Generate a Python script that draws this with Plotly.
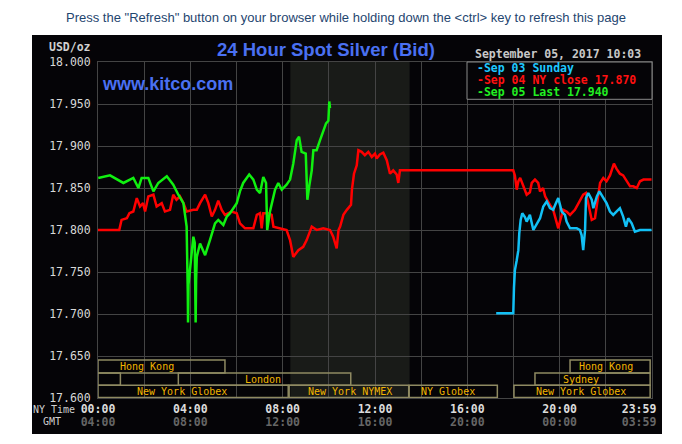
import plotly.graph_objects as go

# ---------------- data ----------------
# Sep 05 (today, green) - hours NY time, price
green_t = [0.01, 0.52, 1.10, 1.53, 1.75, 1.89, 2.18, 2.40, 2.61, 2.98, 3.26, 3.48, 3.70, 3.84,
           3.89, 3.90, 3.92, 3.99, 4.13, 4.19, 4.23, 4.25, 4.28, 4.42, 4.64, 4.85, 5.07, 5.21,
           5.43, 5.58, 5.72, 6.01, 6.15, 6.29, 6.55, 6.73, 6.88, 7.02, 7.16, 7.28, 7.33, 7.45,
           7.67, 7.81, 7.96, 8.17, 8.32, 8.46, 8.61, 8.71, 8.82, 9.00, 9.07, 9.15, 9.26, 9.33,
           9.47, 9.62, 9.76, 9.88, 9.98, 10.02, 10.05]
green_v = [17.862, 17.865, 17.856, 17.862, 17.850, 17.862, 17.862, 17.846, 17.856, 17.864, 17.854,
           17.842, 17.832, 17.804, 17.725, 17.690, 17.735, 17.756, 17.792, 17.785, 17.690, 17.740,
           17.768, 17.784, 17.770, 17.788, 17.808, 17.812, 17.806, 17.816, 17.820, 17.832, 17.846,
           17.856, 17.866, 17.860, 17.848, 17.844, 17.863, 17.856, 17.800, 17.822, 17.848, 17.856,
           17.848, 17.854, 17.860, 17.879, 17.907, 17.911, 17.893, 17.891, 17.836, 17.852, 17.871,
           17.895, 17.895, 17.907, 17.919, 17.927, 17.930, 17.953, 17.945]

# Sep 04 (NY close, red)
red_t = [0.00, 0.92, 1.02, 1.25, 1.36, 1.53, 1.68, 1.82, 1.95, 2.04, 2.18, 2.40, 2.54, 2.76, 2.90,
         3.12, 3.26, 3.40, 3.55, 3.70, 3.84, 4.13, 4.28, 4.42, 4.64, 4.78, 4.93, 5.07, 5.21, 5.36,
         5.50, 5.65, 5.79, 6.01, 6.15, 6.37, 6.73, 6.88, 7.02, 7.09, 7.16, 7.38, 7.52, 7.60, 7.88,
         8.17, 8.32, 8.46, 8.68, 8.89, 9.04, 9.19, 9.26, 9.48, 9.76, 10.05, 10.19, 10.34, 10.42,
         10.49, 10.63, 10.78, 10.96, 11.00, 11.09, 11.21, 11.28, 11.42, 11.56, 11.71, 11.86, 12.00,
         12.07, 12.21, 12.36, 12.51, 12.65, 12.79, 12.94, 13.01, 13.08, 13.21, 17.99, 18.06, 18.14,
         18.21, 18.29, 18.43, 18.57, 18.71, 18.79, 18.93, 19.07, 19.15, 19.28, 19.37, 19.51, 19.58,
         19.72, 19.84, 19.94, 20.01, 20.15, 20.30, 20.45, 20.66, 20.88, 21.02, 21.14, 21.24, 21.39,
         21.53, 21.61, 21.75, 21.89, 22.03, 22.18, 22.35, 22.46, 22.61, 22.75, 22.90, 23.05, 23.19,
         23.34, 23.48, 23.63, 23.92, 23.98]
red_v = [17.800, 17.800, 17.812, 17.814, 17.820, 17.822, 17.838, 17.828, 17.832, 17.822, 17.840,
         17.842, 17.828, 17.832, 17.822, 17.824, 17.842, 17.836, 17.840, 17.832, 17.822, 17.824,
         17.824, 17.832, 17.842, 17.832, 17.816, 17.824, 17.835, 17.824, 17.818, 17.820, 17.822,
         17.820, 17.808, 17.802, 17.802, 17.818, 17.820, 17.802, 17.820, 17.820, 17.818, 17.804,
         17.802, 17.800, 17.788, 17.768, 17.776, 17.780, 17.788, 17.800, 17.804, 17.800, 17.802,
         17.800, 17.792, 17.778, 17.800, 17.804, 17.818, 17.824, 17.830, 17.848, 17.867, 17.877,
         17.895, 17.893, 17.889, 17.893, 17.887, 17.891, 17.885, 17.890, 17.892, 17.883, 17.867,
         17.871, 17.866, 17.856, 17.871, 17.871, 17.871, 17.865, 17.848, 17.858, 17.862, 17.852,
         17.842, 17.845, 17.856, 17.860, 17.856, 17.846, 17.850, 17.840, 17.832, 17.830, 17.824,
         17.812, 17.802, 17.810, 17.824, 17.822, 17.818, 17.824, 17.836, 17.842, 17.844, 17.832,
         17.812, 17.814, 17.828, 17.856, 17.862, 17.858, 17.865, 17.879, 17.873, 17.867, 17.865,
         17.858, 17.852, 17.852, 17.850, 17.858, 17.860, 17.860, 17.860]

# Sep 03 Sunday (cyan)
cyan_t = [17.25, 17.99, 18.02, 18.06, 18.14, 18.21, 18.25, 18.31, 18.38, 18.50, 18.57, 18.71, 18.86,
          19.00, 19.15, 19.29, 19.44, 19.58, 19.72, 19.84, 19.94, 20.09, 20.23, 20.30, 20.45, 20.74,
          20.88, 20.95, 21.02, 21.10, 21.14, 21.24, 21.39, 21.46, 21.61, 21.72, 21.89, 22.03, 22.18,
          22.32, 22.46, 22.61, 22.75, 22.87, 22.97, 23.12, 23.26, 23.48, 23.98]
cyan_v = [17.701, 17.701, 17.731, 17.752, 17.764, 17.776, 17.796, 17.812, 17.820, 17.815, 17.810,
          17.818, 17.800, 17.806, 17.814, 17.828, 17.834, 17.826, 17.824, 17.832, 17.838, 17.822,
          17.818, 17.810, 17.802, 17.802, 17.800, 17.794, 17.776, 17.800, 17.838, 17.844, 17.836,
          17.826, 17.840, 17.846, 17.838, 17.832, 17.822, 17.818, 17.822, 17.826, 17.816, 17.804,
          17.814, 17.808, 17.798, 17.800, 17.800]

# axis ticks
grid_hours = [0, 2, 4, 6, 8, 10, 12, 14, 16, 18, 20, 22, 24]
label_hours = [0, 4, 8, 12, 16, 20, 23.44]
ny_labels = ["00:00", "04:00", "08:00", "12:00", "16:00", "20:00", "23:59"]
gmt_labels = ["04:00", "08:00", "12:00", "16:00", "20:00", "00:00", "03:59"]
y_ticks = [17.60, 17.65, 17.70, 17.75, 17.80, 17.85, 17.90, 17.95, 18.00]

# trading sessions: (label, start hour, end hour, row, label hour)
sessions = [
    ("Hong Kong", 0.0, 5.5, 1, 2.12),
    ("Hong Kong", 20.45, 23.92, 1, 22.0),
    ("", 0.0, 0.97, 2, None),
    ("London", 3.48, 10.95, 2, 7.15),
    ("Sydney", 18.93, 23.92, 2, 20.92),
    ("New York Globex", 0.0, 8.24, 3, 3.66),
    ("New York NYMEX", 8.28, 13.46, 3, 10.92),
    ("NY Globex", 13.48, 17.30, 3, 15.16),
    ("New York Globex", 18.02, 23.92, 3, 20.92),
]
nymex_open, nymex_close = 8.333, 13.5

legend_entries = [("-Sep 03 Sunday", "#1ec8ff"),
                  ("-Sep 04 NY close 17.870", "#ff1010"),
                  ("-Sep 05 Last 17.940", "#22ee22")]
# ---------------------------------------

W, H = 682, 444
L, T = 98, 62
PW, PH = 554, 336
R, B = W - L - PW, H - T - PH


def px(xp):  # page pixel x -> paper
    return (xp - L) / PW


def py(yp):  # page pixel y -> paper
    return (T + PH - yp) / PH


MONO = "DejaVu Sans Mono"
SANS = "Liberation Sans, Arial"
GRID = "#444444"

fig = go.Figure()

fig.add_trace(go.Scatter(x=red_t, y=red_v, mode="lines", line=dict(color="#ff0000", width=2.5),
                         name="Sep 04", hoverinfo="skip"))
fig.add_trace(go.Scatter(x=cyan_t, y=cyan_v, mode="lines", line=dict(color="#12c0f5", width=2.5),
                         name="Sep 03", hoverinfo="skip"))
fig.add_trace(go.Scatter(x=green_t, y=green_v, mode="lines", line=dict(color="#10f010", width=2.5),
                         name="Sep 05", hoverinfo="skip"))
# invisible traces to activate the label axes
for ax in ("x2", "x3"):
    fig.add_trace(go.Scatter(x=[0, 24], y=[17.6, 17.6], xaxis=ax, mode="lines",
                             line=dict(width=0, color="rgba(0,0,0,0)"), hoverinfo="skip",
                             showlegend=False))

shapes = []
# black panel
shapes.append(dict(type="rect", xref="paper", yref="paper", x0=px(32), x1=px(662),
                   y0=py(434), y1=py(35), fillcolor="#050407", line=dict(width=0), layer="below"))
# NYMEX shading
shapes.append(dict(type="rect", xref="x", yref="paper", x0=nymex_open, x1=nymex_close, y0=0, y1=1,
                   fillcolor="#191b18", line=dict(width=0), layer="below"))
# session boxes
row_edges = {1: (17.6298, 17.6452), 2: (17.6152, 17.6298), 3: (17.6005, 17.6152)}
annotations = []
for lab, s, e, row, lx in sessions:
    y0, y1 = row_edges[row]
    shapes.append(dict(type="rect", xref="x", yref="y", x0=s, x1=e, y0=y0, y1=y1,
                       line=dict(color="#8f8a62", width=1.5), fillcolor="rgba(0,0,0,0)",
                       layer="above"))
    if lab:
        annotations.append(dict(x=lx, y=(y0 + y1) / 2, xref="x", yref="y", text=lab,
                                showarrow=False, font=dict(family=MONO, size=10, color="#f2b400"),
                                xanchor="center", yanchor="middle"))
# legend box
shapes.append(dict(type="rect", xref="paper", yref="paper", x0=px(467), x1=px(652),
                   y0=py(99.3), y1=py(62), fillcolor="#050407",
                   line=dict(color="#8a8a8a", width=1), layer="above"))

for i, (txt, col) in enumerate(legend_entries):
    annotations.append(dict(x=px(475), y=py(68.3 + i * 11.7), xref="paper", yref="paper",
                            text="<b>%s</b>" % txt, showarrow=False, xanchor="left",
                            yanchor="middle", font=dict(family=MONO, size=11.5, color=col)))

annotations += [
    dict(x=px(473), y=py(54.3), xref="paper", yref="paper", text="<b>September 05, 2017 10:03</b>",
         showarrow=False, xanchor="left", yanchor="middle",
         font=dict(family=MONO, size=11.5, color="#c8c8c8")),
    dict(x=px(326), y=py(50), xref="paper", yref="paper", text="<b>24 Hour Spot Silver (Bid)</b>",
         showarrow=False, xanchor="center", yanchor="middle",
         font=dict(family=SANS, size=18.5, color="#4a70f2")),
    dict(x=px(100), y=py(83.5), xref="paper", yref="paper", text="<b>www.kitco.com</b>",
         showarrow=False, xanchor="left", yanchor="middle",
         font=dict(family=SANS, size=18, color="#4a70f2")),
    dict(x=px(346), y=py(17), xref="paper", yref="paper",
         text='Press the "Refresh" button on your browser while holding down the &lt;ctrl&gt; key to refresh this page',
         showarrow=False, xanchor="center", yanchor="middle",
         font=dict(family=SANS, size=13, color="#1f4670")),
    dict(x=px(93), y=py(47), xref="paper", yref="paper", text="<b>USD/oz</b>",
         showarrow=False, xanchor="right", yanchor="middle",
         font=dict(family=MONO, size=11.5, color="#d0d0d0")),
    dict(x=px(76.5), y=py(409), xref="paper", yref="paper", text="NY Time",
         showarrow=False, xanchor="right", yanchor="middle",
         font=dict(family=MONO, size=10, color="#d0d0d0")),
    dict(x=px(51.5), y=py(421.7), xref="paper", yref="paper", text="GMT",
         showarrow=False, xanchor="center", yanchor="middle",
         font=dict(family=MONO, size=10, color="#d0d0d0")),
]


def label_axis(labels, color, standoff):
    return dict(range=[0, 24], overlaying="x", side="bottom", anchor="y",
                tickmode="array", tickvals=label_hours,
                ticktext=["<b>%s</b>" % t for t in labels],
                showgrid=False, zeroline=False, showline=False, ticks="",
                ticklabelstandoff=standoff,
                tickfont=dict(family=MONO, size=11.5, color=color), fixedrange=True)


fig.update_layout(
    width=W, height=H, autosize=False,
    margin=dict(l=L, r=R, t=T, b=B, pad=0),
    paper_bgcolor="white", plot_bgcolor="#050407",
    showlegend=False,
    shapes=shapes, annotations=annotations,
    xaxis=dict(range=[0, 24], tickmode="array", tickvals=grid_hours, showticklabels=False,
               showgrid=True, gridcolor=GRID, gridwidth=1, zeroline=False,
               showline=True, linecolor=GRID, mirror=True, ticks="", fixedrange=True),
    xaxis2=label_axis(ny_labels, "#dcdcdc", 2),
    xaxis3=label_axis(gmt_labels, "#666666", 15),
    yaxis=dict(range=[17.6, 18.0], tickmode="array", tickvals=y_ticks, tickformat=".3f",
               showgrid=True, gridcolor=GRID, gridwidth=1, zeroline=False,
               showline=True, linecolor=GRID, mirror=True,
               ticks="", ticklabelstandoff=4, tickprefix="<b>", ticksuffix="</b>",
               tickfont=dict(family=MONO, size=11.5, color="#d8d8d8"), fixedrange=True),
)

# place the 682x444 figure flush with the window (no default page margin / scrollbars)
page_fix = ("document.documentElement.style.margin='0';document.body.style.margin='0';"
            "document.documentElement.style.overflow='hidden';document.body.style.overflow='hidden';")

fig.write_html("out.html", post_script=page_fix, config={"displayModeBar": False})
